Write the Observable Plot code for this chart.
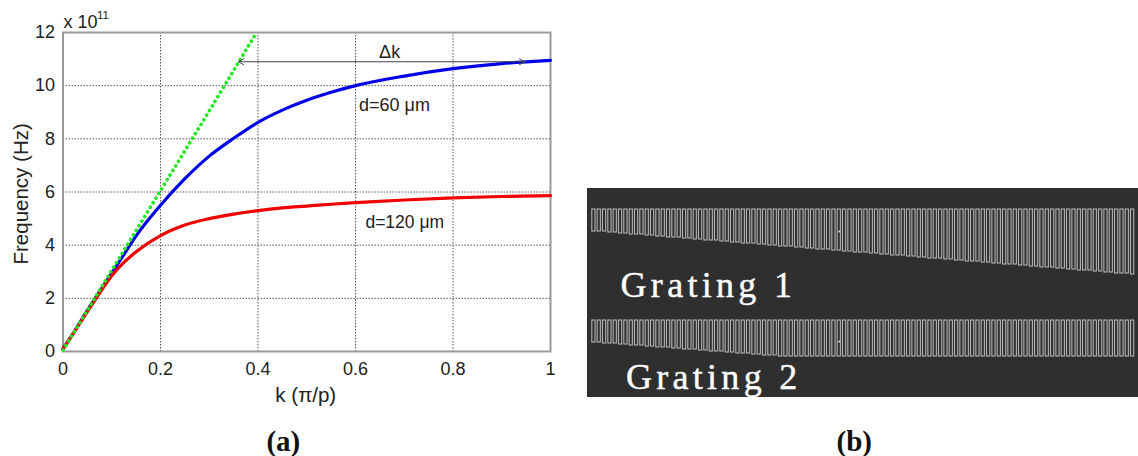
<!DOCTYPE html>
<html><head><meta charset="utf-8">
<script src="https://cdn.jsdelivr.net/npm/d3@7"></script>
<script src="https://cdn.jsdelivr.net/npm/@observablehq/plot@0.6"></script>
<style>
html,body{margin:0;padding:0;background:#fff}
#wrap{position:relative;width:1138px;height:456px;overflow:hidden}
#wrap>svg{position:absolute}
</style></head><body><div id="wrap"></div>
<script>
const k = [0,0.02,0.05,0.075,0.1,0.125,0.15,0.2,0.25,0.3,0.35,0.4,0.45,0.5,0.55,0.6,0.7,0.8,0.9,1];
const blue = [0.1,0.65,1.55,2.25,2.95,3.65,4.35,5.5,6.5,7.35,8.02,8.62,9.08,9.45,9.75,10.0,10.36,10.64,10.83,10.95];
const red = [0.1,0.65,1.5,2.2,2.85,3.35,3.75,4.36,4.76,5.0,5.17,5.3,5.4,5.47,5.54,5.6,5.7,5.78,5.83,5.86];
const greenK = [0,0.1,0.2,0.3,0.397];
const greenF = [0.05,3.05,6.05,9.05,12];
const xTicks = [0,0.2,0.4,0.6,0.8,1];
const yTicks = [0,2,4,6,8,10,12];

const g1Depth = [22,22,22,23,23,24,24,25,25,25,26,26,27,27,28,28,28,29,29,30,30,31,31,31,32,32,33,33,34,34,34,35,35,36,36,37,37,37,38,38,39,39,40,40,40,41,41,42,42,43,43,43,44,44,45,45,46,46,46,47,47,48,48,49,49,49,50,50,51,51,52,52,52,53,53,54,54,55,55,55,56,56,57,57,58,58,58,59,59,60,60,61,61,61,62,62,63,63,64,64,64,65];
const g2Depth = [22,22,23,23,23,24,24,25,25,25,26,26,27,27,27,28,28,29,29,29,30,30,31,31,31,32,32,33,33,33,34,34,35,35,35,36,36,36,36,36,36,36,36,36,36,36,36,36,36,36,36,36,36,36,36,36,36,36,36,36,36,36,36,36,36,36,36,36,36,36,36,36,36,36,36,36,36,36,36,36,36,36,36,36,36,36,36,36,36,36,36,36,36,36,36,36,36,36,36,36,36,36];

const toRows = (xs, ys) => xs.map((x,i)=>({x,y:ys[i]}));
const fnt = "Liberation Sans, Arial, sans-serif";

const a = Plot.plot({
  width:1138,height:456,marginLeft:62.5,marginRight:588,marginTop:32,marginBottom:105,
  style:{fontFamily:fnt,fontSize:"18px",color:"#222",background:"transparent"},
  x:{domain:[0,1],label:null,ticks:xTicks},
  y:{domain:[0,12],label:null,ticks:yTicks},
  marks:[
    Plot.gridX(xTicks,{stroke:"#555",strokeOpacity:1,strokeDasharray:"1.5 1.5"}),
    Plot.gridY(yTicks,{stroke:"#555",strokeOpacity:1,strokeDasharray:"1.5 1.5"}),
    Plot.frame({stroke:"#999",strokeWidth:2}),
    Plot.axisX({ticks:xTicks,tickSize:0,tickPadding:11,fontSize:18,tickFormat:d=>String(d),label:null}),
    Plot.axisY({ticks:yTicks,tickSize:0,tickPadding:8,fontSize:18,label:null}),
    Plot.line(toRows(k,blue),{x:"x",y:"y",stroke:"#0000e8",strokeWidth:3.2,curve:"monotone-x"}),
    Plot.line(toRows(k,red),{x:"x",y:"y",stroke:"#f00000",strokeWidth:3.2,curve:"monotone-x"}),
    Plot.line(toRows(greenK,greenF),{x:"x",y:"y",stroke:"#1fe81f",strokeWidth:3.6,strokeDasharray:"0.1 5.3",strokeLinecap:"round"}),
    Plot.arrow([{x1:0.6,x2:0.36,y:10.9},{x1:0.6,x2:0.947,y:10.9}],{x1:"x1",x2:"x2",y1:"y",y2:"y",stroke:"#444",strokeWidth:1,headLength:9}),
    Plot.text(["Δk"],{x:[0.67],y:[11.24],fontSize:18,fill:"#222"}),
    Plot.text(["d=60 μm"],{x:[0.68],y:[9.27],fontSize:18,fill:"#222"}),
    Plot.text(["d=120 μm"],{x:[0.701],y:[4.85],fontSize:17.5,fill:"#222"}),
    Plot.text(["x 10"],{x:[0],y:[12],dy:-10,dx:0.5,textAnchor:"start",fontSize:18,fill:"#222"}),
    Plot.text(["11"],{x:[0],y:[12],dy:-17,dx:34,textAnchor:"start",fontSize:11.5,fill:"#222"}),
    Plot.text(["Frequency (Hz)"],{x:[0],y:[5.93],dx:-42,rotate:-90,fontSize:20.5,fill:"#222"}),
    Plot.text(["k (π/p)"],{x:[0.498],y:[0],dy:43.5,fontSize:20.5,fill:"#222"}),
    Plot.text(["(a)"],{x:[0.452],y:[0],dy:90,fontSize:29,fontWeight:"bold",fontFamily:"Liberation Serif, serif",fill:"#111"}),
    Plot.text(["(b)"],{x:[1.623],y:[0],dy:90,fontSize:29,fontWeight:"bold",fontFamily:"Liberation Serif, serif",fill:"#111"})
  ]
});
a.style.left="0";a.style.top="0";

const teeth = (arr,top)=>arr.map((d,i)=>({i,top,bottom:top+d}));
const toothFlaws = [{i:46.3,y:43},{i:46.3,y:153}];
const b = Plot.plot({
  width:551,height:209,margin:0,
  style:{background:"#2f2f2f",fontFamily:"Liberation Serif, serif"},
  x:{domain:[-0.9,102.4],axis:null},
  y:{domain:[209,0],axis:null},
  marks:[
    Plot.rect(teeth(g1Depth,21),{x1:"i",x2:d=>d.i+0.6,y1:"top",y2:"bottom",stroke:"#b4b4b4",strokeWidth:1.1,fill:"none"}),
    Plot.rect(teeth(g2Depth,132),{x1:"i",x2:d=>d.i+0.6,y1:"top",y2:"bottom",stroke:"#b4b4b4",strokeWidth:1.1,fill:"none"}),
    Plot.dot(toothFlaws,{x:"i",y:"y",r:1,fill:"#e0e0e0"}),
    Plot.text(["Grating 1"],{x:[5.3],y:[97],textAnchor:"start",fontSize:36,fill:"#fff",stroke:"#fff",strokeWidth:0.4}),
    Plot.text(["Grating 2"],{x:[6.3],y:[189],textAnchor:"start",fontSize:36,fill:"#fff",stroke:"#fff",strokeWidth:0.4})
  ]
});
b.style.left="587px";b.style.top="188px";
b.querySelectorAll("text").forEach(t=>t.style.letterSpacing="4.3px");
const w=document.getElementById("wrap");w.append(b,a);
</script></body></html>
